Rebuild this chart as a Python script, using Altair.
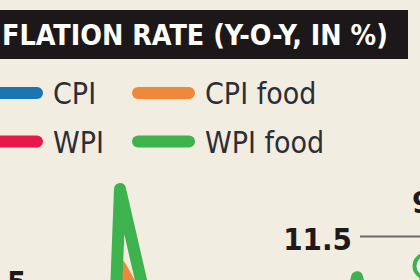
import altair as alt
import pandas as pd

# ---- data ----
title_text = "FLATION RATE (Y-O-Y, IN %)"
series_names = ["CPI", "CPI food", "WPI", "WPI food"]
series_colors = ["#1a75b0", "#f0873a", "#e8184a", "#3db34d"]

cpi_months = [0, 20, 40, 60, 80, 100, 120, 142]
cpi_values = [6.0, 7.5, 8.8, 6.2, 5.0, 4.1, 3.8, 7.4]

cpi_food_months = [0, 20, 39, 40, 43, 46, 70, 100, 120, 142]
cpi_food_values = [7.0, 8.5, 4.6, 11.5, 9.8, 7.0, 8.0, 5.5, 3.0, 9.0]

wpi_months = [0, 20, 40, 60, 80, 100, 120, 142]
wpi_values = [5.0, 6.5, 7.8, 4.0, 2.5, 1.0, 2.0, 6.0]

wpi_food_months = [0, 20, 38, 40, 48, 80, 116, 119, 122, 138, 141, 142]
wpi_food_values = [7.0, 8.0, 3.0, 19.75, 8.6, 4.0, 6.0, 10.3, 6.5, 5.0, 4.0, 11.5]

end_month = [142]
end_value = [11.5]

annotation_labels = ["11.5", "9", "5"]

# ---- build tables ----
rows = []
for name, ms, vs in [("CPI", cpi_months, cpi_values),
                     ("CPI food", cpi_food_months, cpi_food_values),
                     ("WPI", wpi_months, wpi_values),
                     ("WPI food", wpi_food_months, wpi_food_values)]:
    for m, v in zip(ms, vs):
        rows.append({"series": name, "month": m, "value": v})
df = pd.DataFrame(rows)

legend_df = pd.DataFrame({
    "series": series_names,
    "col": [i % 2 for i in range(len(series_names))],
    "row": [i // 2 for i in range(len(series_names))],
})

x_scale = alt.Scale(domain=[0, 140], nice=False, zero=False)
y_scale = alt.Scale(domain=[10, 40], nice=False, zero=False)
color_scale = alt.Scale(domain=series_names, range=series_colors)

font = "DejaVu Sans Condensed, DejaVu Sans, sans-serif"

one = pd.DataFrame({"t": [title_text]})

title_bg = alt.Chart(one).mark_rect(color="#1c1718").encode(
    x=alt.value(-5), x2=alt.value(408), y=alt.value(10), y2=alt.value(59))
title = alt.Chart(one).mark_text(
    align="left", baseline="alphabetic", font=font, fontWeight="bold",
    fontSize=28.4, color="#ffffff").encode(
    text="t:N", x=alt.value(2), y=alt.value(45))

# custom legend (two columns, two rows)
leg_x = alt.Scale(domain=[0, 1], range=[-14, 138])
leg_y = alt.Scale(domain=[0, 1], range=[93, 141.5])
leg_sym = alt.Chart(legend_df).mark_rule(
    strokeWidth=12, strokeCap="round", x2Offset=51).encode(
    x=alt.X("col:Q", scale=leg_x, axis=None),
    x2=alt.X2("col"),
    y=alt.Y("row:Q", scale=leg_y, axis=None),
    color=alt.Color("series:N", scale=color_scale, legend=None))
leg_txt = alt.Chart(legend_df).mark_text(
    align="left", baseline="alphabetic", dx=67, dy=11, font=font,
    fontSize=30, color="#2d2d35").encode(
    x=alt.X("col:Q", scale=leg_x, axis=None),
    y=alt.Y("row:Q", scale=leg_y, axis=None),
    text="series:N")

lines = alt.Chart(df).mark_line(
    strokeWidth=12, strokeCap="round", strokeJoin="round", clip=True).encode(
    x=alt.X("month:Q", scale=x_scale, axis=None),
    y=alt.Y("value:Q", scale=y_scale, axis=None),
    color=alt.Color("series:N", scale=color_scale, legend=None),
)

end_df = pd.DataFrame({"month": end_month, "value": end_value})
circle = alt.Chart(end_df).mark_circle(
    fill="#ffffff", stroke="#3db34d", strokeWidth=4, size=531, opacity=1,
    clip=True).encode(
    x=alt.X("month:Q", scale=x_scale, axis=None),
    y=alt.Y("value:Q", scale=y_scale, axis=None))

leader = alt.Chart(one).mark_rule(color="#6b6b6b", strokeWidth=2).encode(
    x=alt.value(360), x2=alt.value(430), y=alt.value(236.5))

lab_df = pd.DataFrame({"label": annotation_labels})
lab1 = alt.Chart(lab_df.iloc[[0]]).mark_text(
    align="right", baseline="alphabetic", font=font, fontWeight="bold",
    fontSize=31, color="#1e1a1c").encode(
    text="label:N", x=alt.value(352), y=alt.value(250))
lab2 = alt.Chart(lab_df.iloc[[1]]).mark_text(
    align="left", baseline="alphabetic", font=font, fontWeight="bold",
    fontSize=31, color="#1e1a1c").encode(
    text="label:N", x=alt.value(412), y=alt.value(213))
lab3 = alt.Chart(lab_df.iloc[[2]]).mark_text(
    align="left", baseline="alphabetic", font=font, fontWeight="bold",
    fontSize=31, color="#1e1a1c").encode(
    text="label:N", x=alt.value(7), y=alt.value(293))

chart = alt.layer(
    title_bg, title, leg_sym, leg_txt, lines, circle, leader, lab1, lab2, lab3
).resolve_scale(x="independent", y="independent").properties(
    width=420, height=280, padding=0,
    autosize=alt.AutoSizeParams(type="none"),
).configure(background="#f2ede1").configure_view(stroke=None)

chart.save("out.html", embed_options={"renderer": "svg", "actions": False})
